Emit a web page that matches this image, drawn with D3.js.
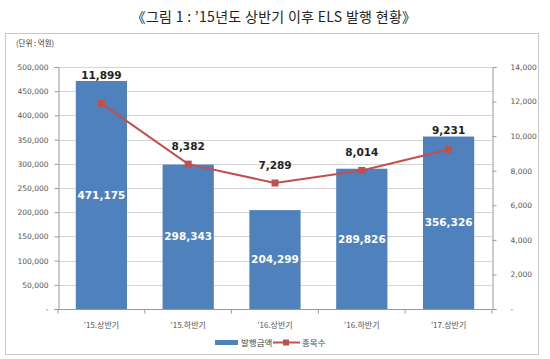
<!DOCTYPE html>
<html><head><meta charset="utf-8">
<script src="https://cdn.jsdelivr.net/npm/d3@7/dist/d3.min.js"></script>
<style>body{margin:0;background:#fff;}svg{display:block;}</style>
</head><body>
<svg id="c" width="550" height="359"></svg>
<script>
const categories = ["'15.상반기", "'15.하반기", "'16.상반기", "'16.하반기", "'17.상반기"];
const amounts = [471175, 298343, 204299, 289826, 356326];
const counts = [11899, 8382, 7289, 8014, 9231];
const leftTicks = [0, 50000, 100000, 150000, 200000, 250000, 300000, 350000, 400000, 450000, 500000];
const rightTicks = [0, 2000, 4000, 6000, 8000, 10000, 12000, 14000];
const seriesNames = ["발행금액", "종목수"];
const titleText = "《그림 1 : ’15년도 상반기 이후 ELS 발행 현황》";
const unitText = "(단위 : 억원)";

const font = "'Noto Sans CJK KR','Noto Sans',sans-serif";
const numFont = "'DejaVu Sans',sans-serif";
const svg = d3.select("#c");
const L = 58, R = 492, T = 67, B = 309;

svg.append("text").attr("x", 274).attr("y", 22).attr("text-anchor", "middle")
  .attr("font-family", font).attr("font-size", 14).attr("letter-spacing", 0.3).attr("fill", "#222").text(titleText);

svg.append("rect").attr("x", 5.5).attr("y", 33.5).attr("width", 533).attr("height", 321)
  .attr("fill", "none").attr("stroke", "#c8c8c8");

svg.append("text").attr("x", 16).attr("y", 46).attr("font-family", font).attr("font-size", 7.5)
  .attr("fill", "#333").text(unitText);

const x = d3.scaleBand().domain(categories).range([L, R]).paddingInner(0.41).paddingOuter(0.205);
const yL = d3.scaleLinear().domain([0, 500000]).range([B, T]);
const yR = d3.scaleLinear().domain([0, 14000]).range([B, T]);
const fmt = d3.format(",");

// gridlines
svg.append("g").selectAll("line").data(leftTicks.filter(d => d > 0)).join("line")
  .attr("x1", L).attr("x2", R).attr("y1", d => Math.round(yL(d)) + 0.5).attr("y2", d => Math.round(yL(d)) + 0.5)
  .attr("stroke", "#d4d4d4");

// left axis
const gl = svg.append("g").attr("transform", `translate(${L + 0.5},0)`)
  .call(d3.axisLeft(yL).tickValues(leftTicks).tickSize(4).tickPadding(6).tickFormat(d => d === 0 ? "-" : fmt(d)));
gl.select(".domain").attr("stroke", "#999");
gl.selectAll(".tick line").attr("stroke", "#999");
gl.selectAll(".tick text").attr("font-family", numFont).attr("font-size", 7.5).attr("fill", "#555");

// right axis
const gr = svg.append("g").attr("transform", `translate(${R + 0.5},0)`)
  .call(d3.axisRight(yR).tickValues(rightTicks).tickSize(4).tickPadding(14).tickFormat(d => d === 0 ? "-" : fmt(d)));
gr.select(".domain").attr("stroke", "#999");
gr.selectAll(".tick line").attr("stroke", "#999");
gr.selectAll(".tick text").attr("font-family", numFont).attr("font-size", 7.5).attr("fill", "#555");

// bars
svg.append("g").selectAll("rect").data(amounts).join("rect")
  .attr("x", (d, i) => x(categories[i])).attr("width", x.bandwidth())
  .attr("y", d => yL(d)).attr("height", d => B - yL(d)).attr("fill", "#4f81bd");

// bottom axis
const gb = svg.append("g").attr("transform", `translate(0,${B + 0.5})`);
gb.append("line").attr("x1", L).attr("x2", R).attr("stroke", "#999");
gb.selectAll("line.t").data(d3.range(categories.length + 1)).join("line").attr("class", "t")
  .attr("x1", i => L + i * (R - L) / categories.length).attr("x2", i => L + i * (R - L) / categories.length)
  .attr("y1", 0).attr("y2", 4).attr("stroke", "#999");
gb.selectAll("text").data(categories).join("text")
  .attr("x", d => x(d) + x.bandwidth() / 2).attr("y", 18).attr("text-anchor", "middle")
  .attr("font-family", font).attr("font-size", 8).attr("fill", "#555").text(d => d);

// bar value labels
svg.append("g").selectAll("text").data(amounts).join("text")
  .attr("x", (d, i) => x(categories[i]) + x.bandwidth() / 2)
  .attr("y", d => (yL(d) + B) / 2).attr("dy", "0.35em").attr("text-anchor", "middle")
  .attr("font-family", numFont).attr("font-size", 10.5).attr("font-weight", "bold").attr("fill", "#fff")
  .text(d => fmt(d));

// line
const cx = (i) => x(categories[i]) + x.bandwidth() / 2;
const line = d3.line().x((d, i) => cx(i)).y(d => yR(d));
svg.append("path").datum(counts).attr("d", line).attr("fill", "none").attr("stroke", "#c0504d").attr("stroke-width", 2);
svg.append("g").selectAll("rect").data(counts).join("rect")
  .attr("x", (d, i) => cx(i) - 3.5).attr("y", d => yR(d) - 3.5).attr("width", 7).attr("height", 7)
  .attr("fill", "#c0504d");

// line labels
svg.append("g").selectAll("text").data(counts).join("text")
  .attr("x", (d, i) => cx(i))
  .attr("y", (d, i) => Math.min(yR(d) - 18, yL(amounts[i]) - 6)).attr("dy", "0.35em").attr("text-anchor", "middle")
  .attr("font-family", numFont).attr("font-size", 10.5).attr("font-weight", "bold").attr("fill", "#222")
  .text(d => fmt(d));

// legend
const lg = svg.append("g");
lg.append("rect").attr("x", 215).attr("y", 340).attr("width", 23).attr("height", 5).attr("fill", "#4f81bd");
lg.append("text").attr("x", 241).attr("y", 346).attr("font-family", font).attr("font-size", 8.5).attr("fill", "#444").text(seriesNames[0]);
lg.append("line").attr("x1", 273).attr("x2", 300).attr("y1", 342.5).attr("y2", 342.5).attr("stroke", "#c0504d").attr("stroke-width", 2);
lg.append("rect").attr("x", 283).attr("y", 339.5).attr("width", 6).attr("height", 6).attr("fill", "#c0504d");
lg.append("text").attr("x", 302).attr("y", 346).attr("font-family", font).attr("font-size", 8.5).attr("fill", "#444").text(seriesNames[1]);
</script>
</body></html>
